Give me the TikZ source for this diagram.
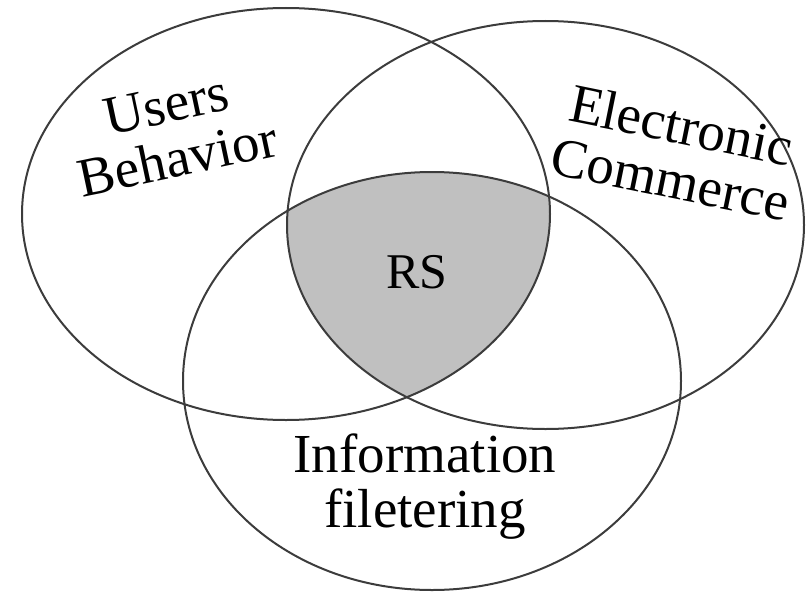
\documentclass[tikz,border=0pt]{standalone}
\usepackage{fontspec}
\setmainfont{Liberation Serif}
\definecolor{vennline}{HTML}{3C3C3C}
\definecolor{vennfill}{HTML}{C0C0C0}
\tikzset{
  venn/.style={draw=vennline, line width=2pt},
  setlabel/.style={inner sep=0pt, align=center, font=\fontsize{55}{55}\selectfont},
}

\begin{document}
\begin{tikzpicture}[x=1pt,y=-1pt]
  \useasboundingbox (0,0) rectangle (811,594);

  % common part of the three sets
  \begin{scope}
    \clip (286,214) ellipse [x radius=264pt, y radius=206pt];
    \clip (545.5,225) ellipse [x radius=258.5pt, y radius=204pt];
    \fill[vennfill] (432,381) ellipse [x radius=249pt, y radius=209pt];
  \end{scope}

  \draw[venn] (286,214) ellipse [x radius=264pt, y radius=206pt];
  \draw[venn] (545.5,225) ellipse [x radius=258.5pt, y radius=204pt];
  \draw[venn] (432,381) ellipse [x radius=249pt, y radius=209pt];

  \node[setlabel, rotate=12] (users) at (172,132) {Users\\Behavior};
  \node[setlabel, rotate=-11.5] (commerce) at (676,152) {Electronic\\Commerce};
  \node[setlabel] (filter) at (425,487) {Information\\filetering};
  \node[inner sep=0pt, font=\fontsize{50}{50}\selectfont] (rs) at (417,272) {RS};
\end{tikzpicture}
\end{document}
